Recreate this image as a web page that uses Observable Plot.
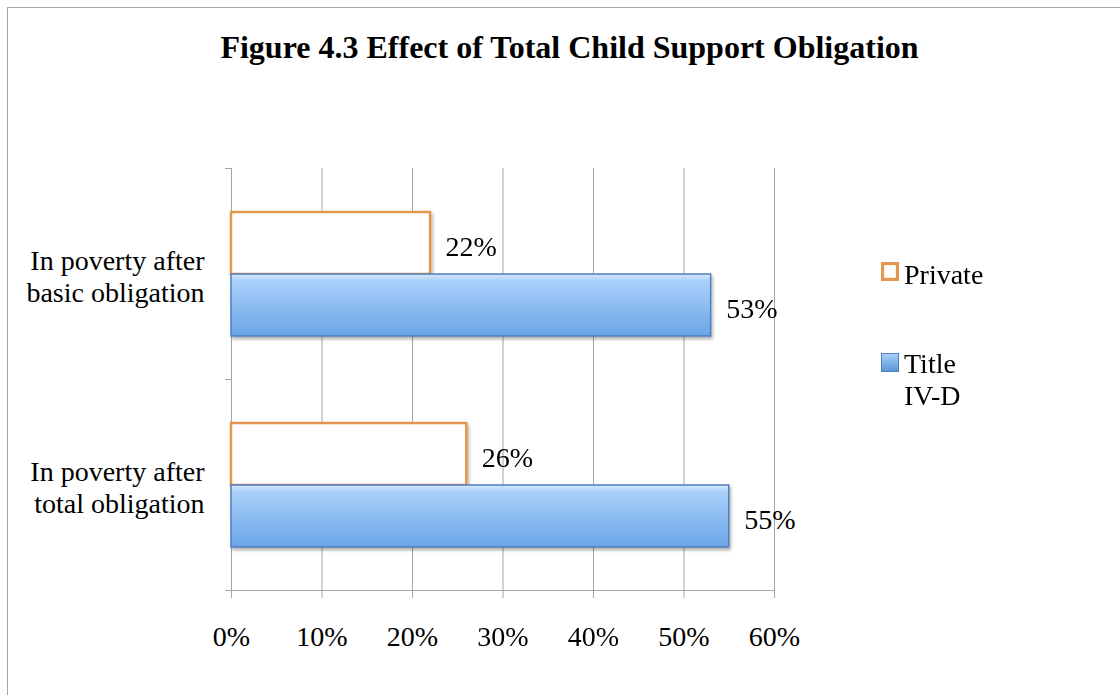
<!DOCTYPE html>
<html><head><meta charset="utf-8">
<script src="https://cdn.jsdelivr.net/npm/d3@7"></script>
<script src="https://cdn.jsdelivr.net/npm/@observablehq/plot@0.6"></script>
<style>
html,body{margin:0;padding:0;background:#fff;overflow:hidden}
#wrap{position:relative;width:1120px;height:695px;font-family:"Liberation Serif",serif;color:#000}
#frame{position:absolute;left:7px;top:7px;width:1200px;height:800px;border:1px solid #a6a6a6;box-sizing:border-box}
#title{position:absolute;left:0;width:1139px;top:31px;text-align:center;font-weight:bold;font-size:32px;line-height:32px}
#chart{position:absolute;left:0;top:0}
.leg{position:absolute;left:881px;font-size:28px;line-height:32px}
.sw{position:absolute;left:0;width:18px;height:19px;box-sizing:border-box}
.lt{position:absolute;left:23px;white-space:nowrap}
</style>
</head><body>
<div id="wrap">
  <div id="frame"></div>
  <div id="title"></div>
  <div id="chart"></div>
  <div id="legend"></div>
</div>
<script>
const titleText = "Figure 4.3 Effect of Total Child Support Obligation";
const categories = ["In poverty after\nbasic obligation", "In poverty after\ntotal obligation"];
const series = ["Private", "Title IV-D"];
const privateValues = [0.22, 0.26];
const titleIVDValues = [0.53, 0.55];
const xTicks = [0, 0.1, 0.2, 0.3, 0.4, 0.5, 0.6];

const rows = categories.flatMap((c, i) => [
  {category: c, series: series[0], value: privateValues[i]},
  {category: c, series: series[1], value: titleIVDValues[i]}
]);

document.getElementById("title").textContent = titleText;

const grid = "#a6a6a6";
const pct = d3.format(".0%");

const svg = Plot.plot({
  width: 1120, height: 695,
  marginLeft: 231, marginRight: 346, marginTop: 168, marginBottom: 105,
  style: {fontFamily: "Liberation Serif", fontSize: "28px", background: "transparent", color: "#000"},
  x: {domain: [0, 0.6]},
  y: {domain: series, paddingInner: 0, paddingOuter: 0.7, axis: null},
  fy: {domain: categories, padding: 0},
  marks: [
    Plot.gridX(xTicks, {stroke: grid, strokeOpacity: 1}),
    Plot.frame({anchor: "left", stroke: grid}),
    Plot.frame({anchor: "top", stroke: grid, insetLeft: -6, insetRight: 543}),
    Plot.frame({anchor: "bottom", stroke: grid, insetLeft: -6, insetRight: 543}),
    Plot.frame({anchor: "bottom", stroke: grid, insetLeft: -6, facetAnchor: "bottom"}),
    Plot.barX(rows.filter(d => d.series === series[0]), {
      x: "value", y: "series", fy: "category",
      fill: "white", stroke: "#e3964e", strokeWidth: 2.5
    }),
    Plot.barX(rows.filter(d => d.series === series[1]), {
      x: "value", y: "series", fy: "category",
      fill: "url(#blueGrad)", stroke: "#4f7fbc", strokeWidth: 1.5
    }),
    Plot.text(rows, {
      x: "value", y: "series", fy: "category", text: d => pct(d.value),
      textAnchor: "start", dx: 15, dy: 4, fill: "#000"
    }),
    Plot.axisFy({anchor: "left", tickSize: 0, tickPadding: 27, lineHeight: 32 / 28, dy: 1.5, fill: "#000", label: null}),
    Plot.axisX({ticks: xTicks, tickFormat: pct, tickSize: 8, tickPadding: 28, stroke: grid, fill: "#000", label: null})
  ]
});

const defs = d3.select(svg).insert("defs", ":first-child");
const g = defs.append("linearGradient").attr("id", "blueGrad").attr("x1", 0).attr("x2", 0).attr("y1", 0).attr("y2", 1);
g.append("stop").attr("offset", "0%").attr("stop-color", "#d4e8fd");
g.append("stop").attr("offset", "12%").attr("stop-color", "#a9cff9");
g.append("stop").attr("offset", "100%").attr("stop-color", "#6aa5e8");
const f = defs.append("filter").attr("id", "shadow").attr("x", "-5%").attr("y", "-20%").attr("width", "115%").attr("height", "150%");
f.append("feDropShadow").attr("dx", 1.5).attr("dy", 2.5).attr("stdDeviation", 1.5).attr("flood-color", "#000").attr("flood-opacity", 0.3);
d3.select(svg).selectAll('g[aria-label="bar"]').attr("filter", "url(#shadow)");

document.getElementById("chart").appendChild(svg);

// legend
const legend = document.getElementById("legend");
const legendItems = [
  {name: series[0], top: 259, swTop: 262, style: "background:#fff;border:3px solid #e3964e;box-shadow:inset 0 0 2px #f3c08a"},
  {name: series[1].replace(" ", "\n"), top: 347.6, swTop: 353, style: "background:linear-gradient(#a9cff9,#5b95d8);border:1.5px solid #4f7fbc"}
];
legendItems.forEach(it => {
  const d = document.createElement("div");
  d.className = "leg";
  d.style.top = it.top + "px";
  const sw = document.createElement("div");
  sw.className = "sw";
  sw.style.cssText += it.style;
  sw.style.top = (it.swTop - it.top) + "px";
  const t = document.createElement("div");
  t.className = "lt";
  t.style.whiteSpace = "pre";
  t.textContent = it.name;
  d.appendChild(sw); d.appendChild(t);
  legend.appendChild(d);
});
</script>
</body></html>
